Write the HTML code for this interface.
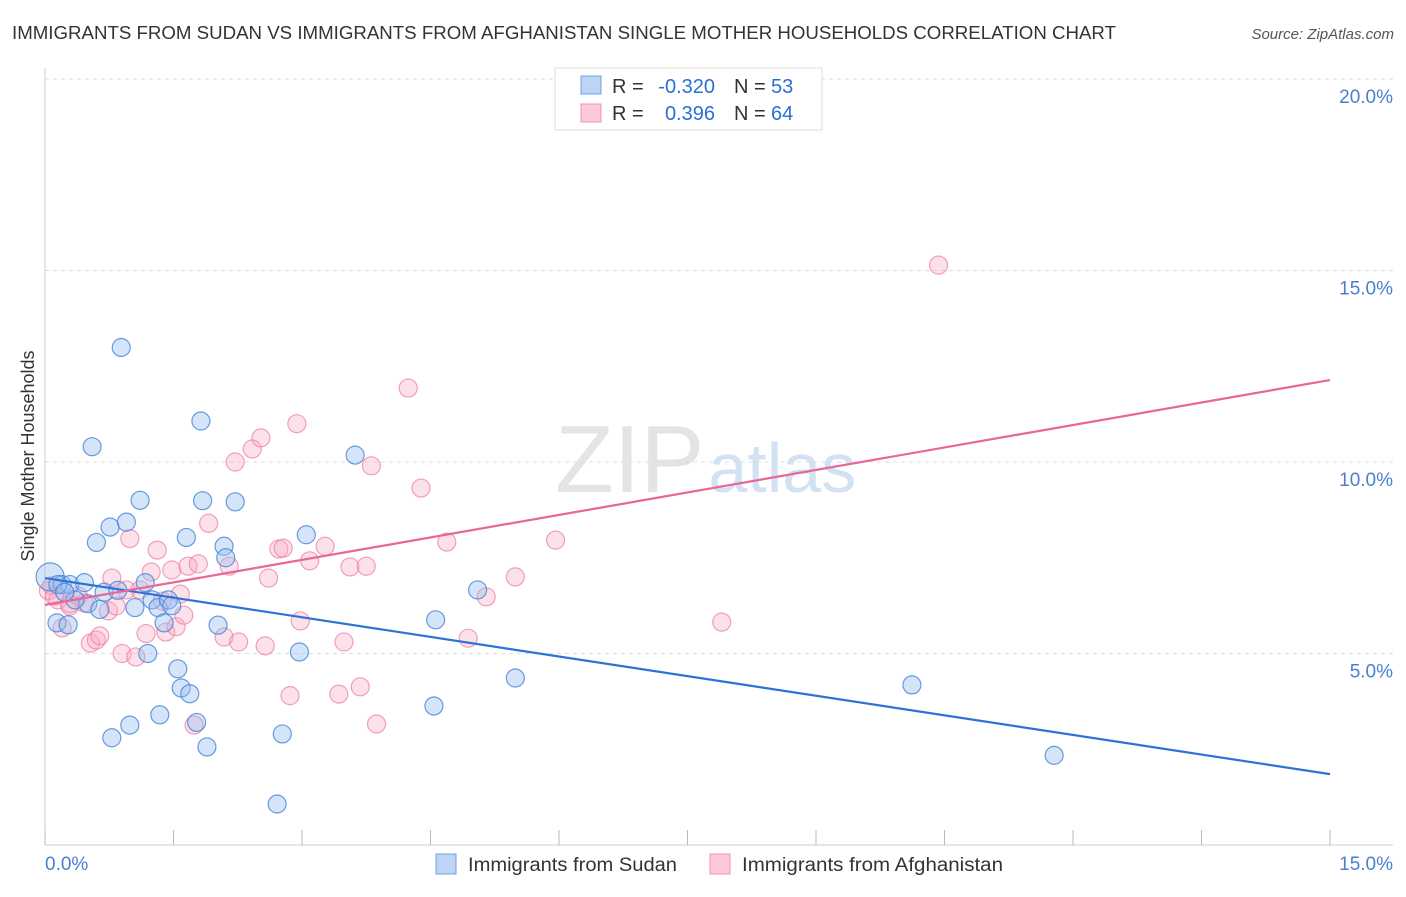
<!DOCTYPE html>
<html><head><meta charset="utf-8"><style>
body{margin:0;background:#fff;font-family:"Liberation Sans",sans-serif;}
svg text{font-family:"Liberation Sans",sans-serif;}
</style></head><body>
<svg id="c" width="1406" height="892">
<text x="12" y="39" font-size="18" textLength="1104" lengthAdjust="spacingAndGlyphs" fill="#333">IMMIGRANTS FROM SUDAN VS IMMIGRANTS FROM AFGHANISTAN SINGLE MOTHER HOUSEHOLDS CORRELATION CHART</text>
<text x="1394" y="39" font-size="15" fill="#555" font-style="italic" text-anchor="end">Source: ZipAtlas.com</text>
<text x="555" y="492" font-size="96" fill="#e4e4e4" font-family="Liberation Serif">ZIP<tspan fill="#d3e2f2" font-family="Liberation Sans" font-size="70" dx="4">atlas</tspan></text>
<g id="grid"></g><g id="pts"></g><g id="lines"></g>
<text transform="translate(34,456) rotate(-90)" font-size="18" fill="#333" text-anchor="middle">Single Mother Households</text>
<text x="45" y="870" font-size="19" fill="#4a7fd0">0.0%</text>
<text x="1393" y="870" font-size="19" fill="#4a7fd0" text-anchor="end">15.0%</text>
<g>
<rect x="555" y="68" width="267" height="62" fill="#fff" stroke="#ddd"/>
<rect x="581" y="76" width="20" height="18" fill="#bcd5f5" stroke="#6f9fe0"/>
<rect x="581" y="104" width="20" height="18" fill="#fbc9d8" stroke="#ee95b0"/>
<text x="612" y="93" font-size="20" fill="#333">R =</text>
<text x="715" y="93" font-size="20" fill="#2a6fd6" text-anchor="end">-0.320</text>
<text x="734" y="93" font-size="20" fill="#333">N =</text>
<text x="771" y="93" font-size="20" fill="#2a6fd6">53</text>
<text x="612" y="120" font-size="20" fill="#333">R =</text>
<text x="715" y="120" font-size="20" fill="#2a6fd6" text-anchor="end">0.396</text>
<text x="734" y="120" font-size="20" fill="#333">N =</text>
<text x="771" y="120" font-size="20" fill="#2a6fd6">64</text>
</g>
<g>
<rect x="436" y="854" width="20" height="20" fill="#bcd5f5" stroke="#6f9fe0"/>
<text x="468" y="871" font-size="19" textLength="209" lengthAdjust="spacingAndGlyphs" fill="#333">Immigrants from Sudan</text>
<rect x="710" y="854" width="20" height="20" fill="#fbc9d8" stroke="#ee95b0"/>
<text x="742" y="871" font-size="19" textLength="261" lengthAdjust="spacingAndGlyphs" fill="#333">Immigrants from Afghanistan</text>
</g>
</svg>
<script>
const yTicks=[5,10,15,20];
const xTicks=[0,1.5,3,4.5,6,7.5,9,10.5,12,13.5,15];
const sudanX=[0.06,0.14,0.2,0.27,0.29,0.46,0.5,0.55,0.6,0.64,0.69,0.76,0.78,0.85,0.89,0.95,0.99,1.05,1.11,1.17,1.2,1.25,1.32,1.34,1.39,1.44,1.48,1.55,1.59,1.65,1.69,1.77,1.82,1.84,1.89,2.02,2.09,2.11,2.22,2.77,2.71,2.97,3.05,3.62,4.54,4.56,5.05,5.49,10.12,11.78,0.15,0.35,0.23];
const sudanY=[7.0,5.8,6.8,5.75,6.8,6.85,6.3,10.4,7.9,6.15,6.6,8.3,2.8,6.65,12.99,8.43,3.13,6.2,9.0,6.85,5.0,6.4,6.2,3.4,5.8,6.4,6.25,4.6,4.1,8.03,3.95,3.2,11.07,8.99,2.56,5.74,7.8,7.5,8.96,2.9,1.07,5.04,8.1,10.18,3.63,5.88,6.66,4.36,4.18,2.34,6.8,6.4,6.6];
const afgX=[0.04,0.08,0.15,0.2,0.29,0.39,0.46,0.53,0.6,0.64,0.74,0.78,0.83,0.9,0.95,0.99,1.06,1.11,1.18,1.24,1.31,1.37,1.41,1.48,1.53,1.58,1.62,1.67,1.74,1.79,1.91,2.09,2.15,2.22,2.26,2.42,2.52,2.57,2.61,2.73,2.78,2.86,2.94,2.98,3.09,3.27,3.43,3.49,3.56,3.68,3.75,3.81,3.87,4.24,4.39,4.69,4.94,5.15,5.49,5.96,7.9,10.43,0.29,0.11];
const afgY=[6.64,6.77,6.4,5.67,6.24,6.5,6.32,5.27,5.35,5.46,6.11,6.97,6.24,5.0,6.66,8.0,4.91,6.66,5.52,7.13,7.7,6.37,5.56,7.18,5.7,6.55,6.0,7.28,3.13,7.34,8.4,5.43,7.28,10.0,5.3,10.34,10.63,5.2,6.97,7.73,7.75,3.9,11.0,5.85,7.42,7.8,3.94,5.3,7.26,4.13,7.28,9.9,3.16,11.93,9.32,7.91,5.4,6.48,7.0,7.96,5.82,15.14,6.3,6.5];
const blueLine=[6.97,1.85];
const pinkLine=[6.27,12.14];
const sx=v=>45+v/15*1285;
const sy=v=>845-v*38.3;
const NS='http://www.w3.org/2000/svg';
function mk(t,a,p){const e=document.createElementNS(NS,t);for(const k in a)e.setAttribute(k,a[k]);p.appendChild(e);return e;}
const grid=document.getElementById('grid');
yTicks.forEach(t=>{
  const l=mk('line',{x1:45,x2:1393,y1:sy(t),y2:sy(t),stroke:'#ddd','stroke-dasharray':'4,4'},grid);
  
  
  const tx=mk('text',{x:1393,y:sy(t)+24,'font-size':19,fill:'#4a7fd0','text-anchor':'end'},grid);
  tx.textContent=t.toFixed(1)+'%';
  
  
});
const ax=mk('line',{x1:45,x2:1393,y1:845,y2:845,stroke:'#ccc'},grid);


const ay=mk('line',{x1:45,x2:45,y1:68,y2:845,stroke:'#ccc'},grid);


xTicks.forEach(t=>{
  const l=mk('line',{x1:sx(t),x2:sx(t),y1:830,y2:845,stroke:'#bbb'},grid);
  
  
});
const pts=document.getElementById('pts');
afgX.forEach((x,i)=>{
  const c=mk('circle',{cx:sx(x),cy:sy(afgY[i]),r:9,fill:'rgba(248,170,195,0.35)',stroke:'rgba(236,130,165,0.75)','stroke-width':1.2},pts);
  
  
});
sudanX.forEach((x,i)=>{
  const c=mk('circle',{cx:sx(x),cy:sy(sudanY[i]),r:i==0?14:9,fill:'rgba(150,190,240,0.4)',stroke:'rgba(70,130,215,0.8)','stroke-width':1.2},pts);
  
  
});
const lines=document.getElementById('lines');
const bl=mk('line',{x1:sx(0),x2:sx(15),y1:sy(blueLine[0]),y2:sy(blueLine[1]),stroke:'#2f72d6','stroke-width':2.2},lines);


const pl=mk('line',{x1:sx(0),x2:sx(15),y1:sy(pinkLine[0]),y2:sy(pinkLine[1]),stroke:'#e8679a','stroke-width':2.2},lines);


</script>
</body></html>
